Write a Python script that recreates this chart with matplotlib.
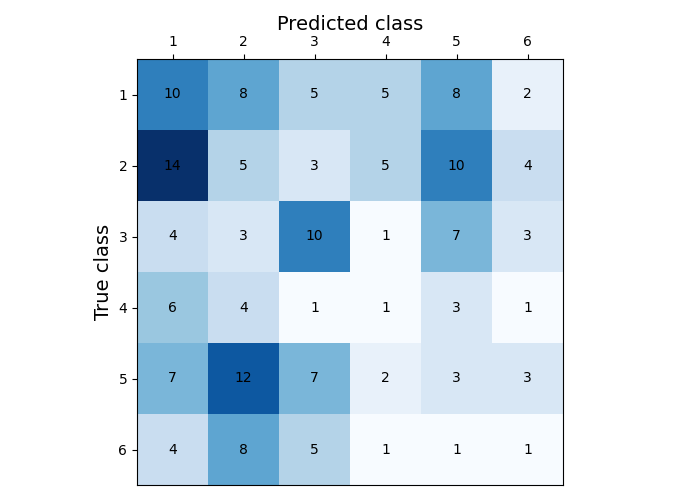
import matplotlib
matplotlib.use("Agg")
import matplotlib.pyplot as plt
import numpy as np

classes = ["1", "2", "3", "4", "5", "6"]
matrix = [
    [10, 8, 5, 5, 8, 2],
    [14, 5, 3, 5, 10, 4],
    [4, 3, 10, 1, 7, 3],
    [6, 4, 1, 1, 3, 1],
    [7, 12, 7, 2, 3, 3],
    [4, 8, 5, 1, 1, 1],
]

cm = np.array(matrix)
fig = plt.figure(figsize=(7, 5), dpi=100)
ax = fig.add_axes([137/700, 15/500, 426/700, 426/500])
ax.imshow(cm, cmap="Blues", interpolation="nearest", aspect="auto")
ax.set_xticks(range(len(classes)))
ax.set_yticks(range(len(classes)))
ax.set_xticklabels(classes)
ax.set_yticklabels(classes)
ax.xaxis.tick_top()
ax.xaxis.set_label_position("top")
ax.set_xlabel("Predicted class", fontsize=14)
ax.set_ylabel("True class", fontsize=14)
for i in range(cm.shape[0]):
    for j in range(cm.shape[1]):
        ax.text(j, i, str(cm[i, j]), ha="center", va="center", color="black", fontsize=10)
fig.savefig("out.png", dpi=100)
